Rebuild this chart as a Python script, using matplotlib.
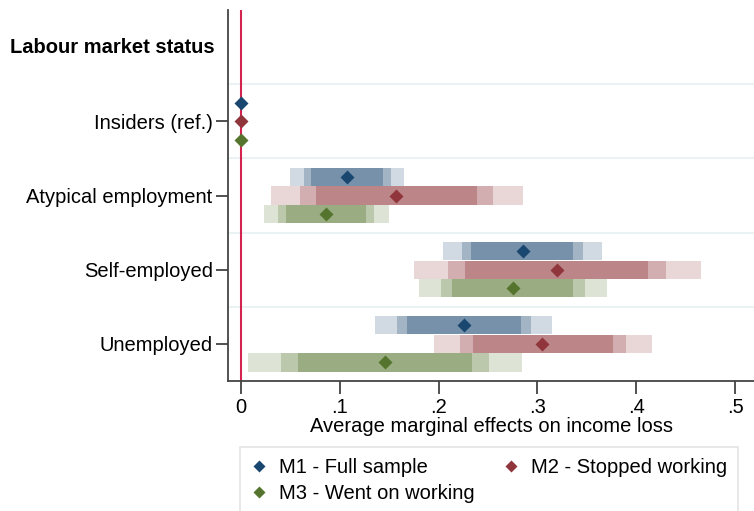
import matplotlib
matplotlib.use("Agg")
import matplotlib.pyplot as plt
from matplotlib.lines import Line2D

plt.rcParams["font.family"] = ["Liberation Sans", "DejaVu Sans"]

categories = ["Insiders (ref.)", "Atypical employment", "Self-employed", "Unemployed"]
header = "Labour market status"
models = ["M1 - Full sample", "M2 - Stopped working", "M3 - Went on working"]
colors = ["#1a476f", "#90353b", "#55752f"]

# point estimates per model, one value per category
m1_est = [0.0, 0.107, 0.285, 0.226]
m2_est = [0.0, 0.157, 0.320, 0.305]
m3_est = [0.0, 0.086, 0.275, 0.146]

# confidence intervals (low, high) per category: 99%, 95%, 90%
m1_ci99 = [None, (0.050, 0.165), (0.204, 0.365), (0.136, 0.315)]
m1_ci95 = [None, (0.064, 0.152), (0.224, 0.346), (0.158, 0.293)]
m1_ci90 = [None, (0.071, 0.144), (0.233, 0.336), (0.168, 0.283)]

m2_ci99 = [None, (0.030, 0.285), (0.175, 0.465), (0.195, 0.416)]
m2_ci95 = [None, (0.060, 0.255), (0.210, 0.430), (0.222, 0.390)]
m2_ci90 = [None, (0.076, 0.239), (0.227, 0.412), (0.235, 0.376)]

m3_ci99 = [None, (0.023, 0.150), (0.180, 0.370), (0.007, 0.284)]
m3_ci95 = [None, (0.038, 0.135), (0.202, 0.348), (0.041, 0.251)]
m3_ci90 = [None, (0.046, 0.127), (0.214, 0.336), (0.058, 0.234)]

x_ticks = [0, 0.1, 0.2, 0.3, 0.4, 0.5]
x_tick_labels = ["0", ".1", ".2", ".3", ".4", ".5"]


def lighten(color, amount):
    rgb = matplotlib.colors.to_rgb(color)
    return tuple(1 - amount * (1 - c) for c in rgb)


def main():
    fig = plt.figure(figsize=(7.54, 5.11), dpi=100)
    ax = fig.add_axes([228 / 754, 130 / 511, 1 - 228 / 754, 371 / 511])

    rows = [1, 2, 3, 4]
    offsets = [-0.25, 0.0, 0.25]
    estimates = [m1_est, m2_est, m3_est]
    cis = [(m1_ci99, m1_ci95, m1_ci90),
           (m2_ci99, m2_ci95, m2_ci90),
           (m3_ci99, m3_ci95, m3_ci90)]

    for grid_y in [0.5, 1.5, 2.5, 3.5]:
        ax.axhline(grid_y, color="#eaf2f3", lw=1.4, zorder=0)

    ax.axvline(0, color="#d3234f", lw=1.5, zorder=1)

    for k in range(3):
        ys = [r + offsets[k] for r in rows]
        for level, alpha in zip(cis[k], [0.2, 0.4, 0.6]):
            for y, ci in zip(ys, level):
                if ci is None:
                    continue
                ax.barh(y, ci[1] - ci[0], left=ci[0], height=0.245,
                        color=lighten(colors[k], alpha), zorder=2)
        ax.plot(estimates[k], ys, "D", color=colors[k], ms=7, mec="none",
                zorder=4, ls="none")

    ax.set_xlim(-0.013, 0.519)
    ax.set_ylim(4.5, -0.5)
    ax.set_yticks(rows)
    ax.set_yticklabels(categories, fontsize=14.5)
    ax.set_xticks(x_ticks)
    ax.set_xticklabels(x_tick_labels, fontsize=14.5)
    ax.tick_params(axis="both", length=9, width=1.2, color="#333333")
    ax.tick_params(axis="y", pad=2)
    ax.tick_params(axis="x", pad=3)
    ax.set_xlabel("Average marginal effects on income loss", fontsize=14.5, labelpad=0)

    ax.text(-0.026, 0, header, transform=ax.get_yaxis_transform(),
            ha="right", va="center", fontsize=14.5, fontweight="bold")

    for side in ["top", "right"]:
        ax.spines[side].set_visible(False)
    for side in ["left", "bottom"]:
        ax.spines[side].set_color("#444444")
        ax.spines[side].set_linewidth(1.3)

    handles = [Line2D([], [], marker="D", color=c, ls="none", ms=6, mec="none")
               for c in colors]
    # reorder so that M1 and M2 share the first row
    order = [0, 2, 1]
    leg = fig.legend([handles[i] for i in order], [models[i] for i in order],
                     ncol=2, loc="upper left",
                     bbox_to_anchor=(240 / 754, 1 - 447 / 511),
                     borderaxespad=0, fontsize=14.5,
                     frameon=True, fancybox=False,
                     handlelength=0.8, handletextpad=0.6, borderpad=0.55,
                     labelspacing=0.35, columnspacing=1.4)
    leg.get_frame().set_edgecolor("#dddddd")
    leg.get_frame().set_linewidth(1.2)

    fig.savefig("out.png", dpi=100)


if __name__ == "__main__":
    main()
